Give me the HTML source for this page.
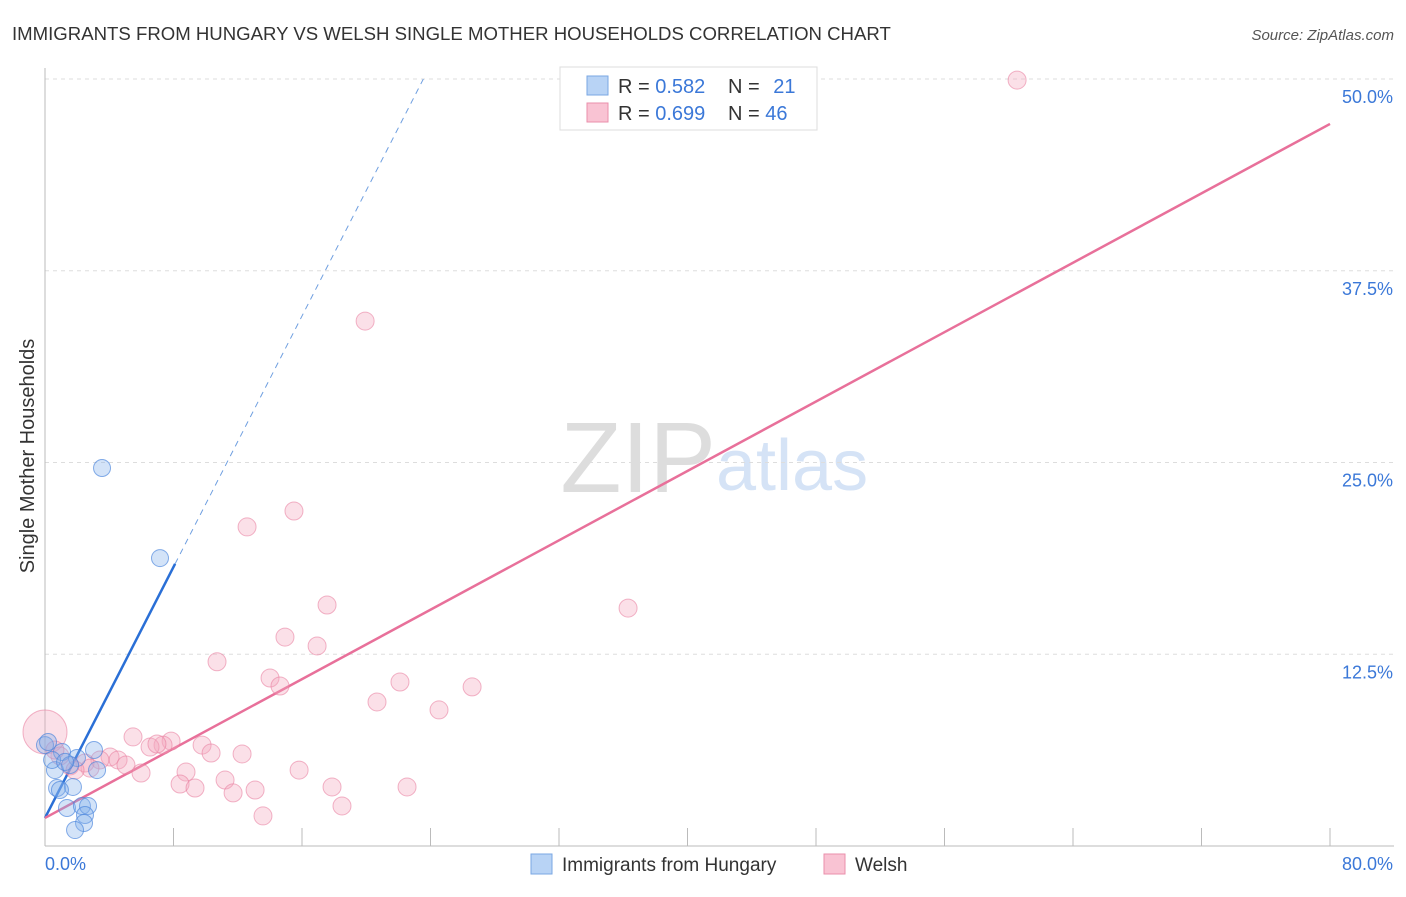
<!DOCTYPE html>
<html><head><meta charset="utf-8"><style>
body{margin:0;background:#fff;font-family:"Liberation Sans",sans-serif;}
svg text{font-family:"Liberation Sans",sans-serif;}
</style></head><body>
<svg id="chart" width="1406" height="892" viewBox="0 0 1406 892" xmlns="http://www.w3.org/2000/svg">
<text x="12" y="40" font-size="18.6" fill="#333">IMMIGRANTS FROM HUNGARY VS WELSH SINGLE MOTHER HOUSEHOLDS CORRELATION CHART</text>
<text x="1394" y="40" font-size="15" fill="#555" font-style="italic" text-anchor="end">Source: ZipAtlas.com</text>
<text x="716" y="492" font-size="100" fill="#ddd" text-anchor="end" font-family="Liberation Serif">ZIP</text>
<text x="716" y="490" font-size="72" fill="#d5e3f6">atlas</text>
<text transform="translate(34,456) rotate(-90)" font-size="20" fill="#333" text-anchor="middle">Single Mother Households</text>
<g id="grid"></g><g id="axes"></g><g id="trend"></g><g id="pts"></g>
<g>
<rect x="560" y="67" width="257" height="63" fill="#fff" stroke="#ddd"/>
<rect x="587" y="76" width="21" height="19" fill="#b8d3f5" stroke="#7aa7e3"/>
<rect x="587" y="103" width="21" height="19" fill="#f9c3d3" stroke="#ea8fab"/>
<text x="618" y="93" font-size="20" fill="#333">R = <tspan fill="#3b78d8">0.582</tspan></text>
<text x="728" y="93" font-size="20" fill="#333">N = <tspan fill="#3b78d8" dx="8">21</tspan></text>
<text x="618" y="120" font-size="20" fill="#333">R = <tspan fill="#3b78d8">0.699</tspan></text>
<text x="728" y="120" font-size="20" fill="#333">N = <tspan fill="#3b78d8">46</tspan></text>
</g>
<g>
<rect x="531" y="854" width="21" height="20" fill="#b8d3f5" stroke="#7aa7e3"/>
<text x="562" y="871" font-size="19" fill="#333">Immigrants from Hungary</text>
<rect x="824" y="854" width="21" height="20" fill="#f9c3d3" stroke="#ea8fab"/>
<text x="855" y="871" font-size="19" fill="#333">Welsh</text>
</g>
</svg>
<script>
const xTicks=[0,8,16,24,32,40,48,56,64,72,80];
const yTicks=[12.5,25,37.5,50];
const yTickLabels=["12.5%","25.0%","37.5%","50.0%"];
const hungaryX=[3.55,7.16,3.05,0,1.06,1.99,3.24,0.62,1.56,0.75,1.74,0.93,1.37,2.30,2.68,2.49,2.43,1.87,0.44,1.25,0.19];
const hungaryY=[24.64,18.77,6.26,6.58,6.13,5.74,4.95,4.95,5.28,3.78,3.85,3.65,2.48,2.61,2.61,2.02,1.50,1.04,5.61,5.48,6.78];
const welshX=[60.52,19.93,15.50,12.58,17.56,36.30,14.94,16.94,10.71,14.01,14.63,22.10,26.59,20.67,24.53,0,5.48,7.85,7.35,6.54,6.97,9.78,12.27,10.34,4.05,4.55,5.04,3.42,2.49,1.56,0.93,5.98,8.78,15.82,8.41,9.34,11.21,11.71,13.08,17.87,22.54,18.49,13.57,0.62,2.80,1.87];
const welshY=[49.93,34.22,21.84,20.80,15.71,15.51,13.62,13.04,12.01,10.95,10.43,10.69,10.37,9.39,8.87,7.43,7.11,6.84,6.58,6.45,6.65,6.58,6.00,6.06,5.80,5.61,5.28,5.61,5.41,5.22,5.87,4.76,4.82,4.95,4.04,3.78,4.30,3.46,3.65,3.85,3.85,2.61,1.96,6.26,5.08,4.95];
const hungaryTrend=[1.83,2.045];
const welshTrend=[1.83,0.5655];
const NS="http://www.w3.org/2000/svg";
const X=v=>45+v*1285/80, Y=v=>846-v*15.34;
function mk(tag,attrs,parent){const e=document.createElementNS(NS,tag);for(const k in attrs)e.setAttribute(k,attrs[k]);document.getElementById(parent).appendChild(e);return e;}
yTicks.forEach((t,i)=>{
 const g=mk('line',{x1:45,x2:1394,y1:Y(t),y2:Y(t),stroke:'#ddd','stroke-dasharray':'4,4'},'grid');
 
 
 const l=mk('text',{x:1393,y:Y(t)+24,'font-size':18,fill:'#3b78d8','text-anchor':'end'},'axes');l.textContent=yTickLabels[i];
 
 
});
const ax=mk('line',{x1:45,x2:45,y1:68,y2:846,stroke:'#bbb'},'axes');


const bx=mk('line',{x1:45,x2:1394,y1:846,y2:846,stroke:'#bbb'},'axes');


xTicks.forEach(t=>{const tk=mk('line',{x1:X(t),x2:X(t),y1:828,y2:846,stroke:'#bbb'},'axes');
 
 });
const x0=mk('text',{x:45,y:870,'font-size':18,fill:'#3b78d8'},'axes');x0.textContent="0.0%";


const x1=mk('text',{x:1393,y:870,'font-size':18,fill:'#3b78d8','text-anchor':'end'},'axes');x1.textContent="80.0%";


welshX.forEach((x,i)=>{const r=(x===0&&welshY[i]>7)?22:9;
 const c=mk('circle',{cx:X(x),cy:Y(welshY[i]),r:r,fill:'rgba(244,166,190,0.35)',stroke:'rgba(232,120,155,0.55)','stroke-width':1},'pts');
 
 });
hungaryX.forEach((x,i)=>{const c=mk('circle',{cx:X(x),cy:Y(hungaryY[i]),r:8.5,fill:'rgba(130,175,235,0.35)',stroke:'rgba(70,130,220,0.65)','stroke-width':1},'pts');
 
 });
const hx1=(50-hungaryTrend[0])/hungaryTrend[1];
const hs=mk('line',{x1:X(0),y1:Y(hungaryTrend[0]),x2:X(8.1),y2:Y(hungaryTrend[0]+hungaryTrend[1]*8.1),stroke:'#2a6fd6','stroke-width':2.5},'trend');


const hd=mk('line',{x1:X(8.1),y1:Y(hungaryTrend[0]+hungaryTrend[1]*8.1),x2:X(hx1),y2:Y(50),stroke:'#6f9fe0','stroke-width':1,'stroke-dasharray':'6,5'},'trend');


const wl=mk('line',{x1:X(0),y1:Y(welshTrend[0]),x2:X(80),y2:Y(welshTrend[0]+welshTrend[1]*80),stroke:'#e8709a','stroke-width':2.5},'trend');


</script>
</body></html>
